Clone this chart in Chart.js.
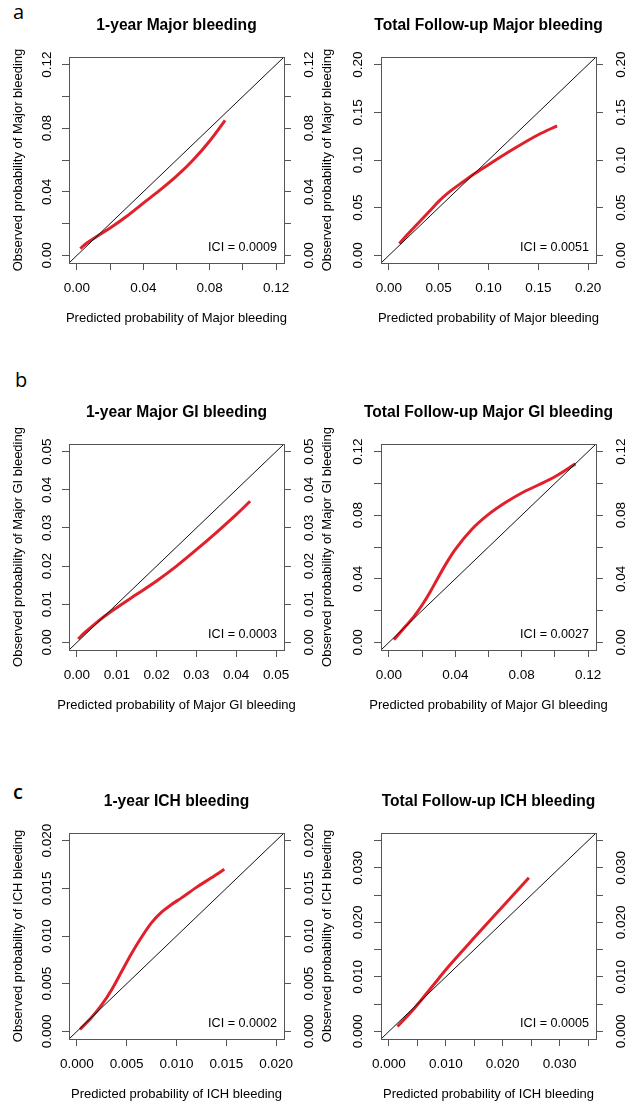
<!DOCTYPE html>
<html>
<head>
<meta charset="utf-8">
<script src="https://cdn.jsdelivr.net/npm/chart.js@4.4.1/dist/chart.umd.min.js"></script>
<style>
  html, body { margin: 0; padding: 0; background: #fff; overflow: hidden; }
  #page { position: relative; width: 625px; height: 1101px; overflow: hidden; background: #fff; }
  #page canvas { position: absolute; }
  .tag { position: absolute; font-family: "Open Sans", sans-serif; font-size: 20px; line-height: 20px; color: #000; }
</style>
</head>
<body>
<div id="page">
  <span class="tag" style="left:13px; top:2px">a</span>
  <span class="tag" style="left:15px; top:370px">b</span>
  <span class="tag" style="left:13px; top:782px; font-weight:600">c</span>
</div>
<script>
// panel texts, in reading order (a-left, a-right, b-left, b-right, c-left, c-right)
const panelTitles = [
  "1-year Major bleeding", "Total Follow-up Major bleeding",
  "1-year Major GI bleeding", "Total Follow-up Major GI bleeding",
  "1-year ICH bleeding", "Total Follow-up ICH bleeding"
];
const xAxisLabels = [
  "Predicted probability of Major bleeding", "Predicted probability of Major bleeding",
  "Predicted probability of Major GI bleeding", "Predicted probability of Major GI bleeding",
  "Predicted probability of ICH bleeding", "Predicted probability of ICH bleeding"
];
const yAxisLabels = [
  "Observed probability of Major bleeding", "Observed probability of Major bleeding",
  "Observed probability of Major GI bleeding", "Observed probability of Major GI bleeding",
  "Observed probability of ICH bleeding", "Observed probability of ICH bleeding"
];
const iciValues = ["0.0009", "0.0051", "0.0003", "0.0027", "0.0002", "0.0005"];

// axis limits (same on x and y), tick spacing and which ticks carry a label
const axisLimits = [[0, 0.12], [0, 0.20], [0, 0.05], [0, 0.12], [0, 0.020], [0, 0.035]];
const tickSteps = [0.02, 0.05, 0.01, 0.02, 0.005, 0.005];
const labelEvery = [2, 1, 1, 2, 1, 2];
const tickDecimals = [2, 2, 2, 2, 3, 3];

// calibration curves: predicted (x) vs observed (y)
const predA1 = [0.002, 0.006, 0.011, 0.02, 0.03, 0.04, 0.05, 0.06, 0.07, 0.08, 0.0893];
const obsA1  = [0.0042, 0.0078, 0.0113, 0.0172, 0.0246, 0.0329, 0.041, 0.0498, 0.060, 0.072, 0.085];

const predA2 = [0.0104, 0.02, 0.03, 0.04, 0.05, 0.06, 0.075, 0.085, 0.10, 0.125, 0.15, 0.1689];
const obsA2  = [0.0125, 0.0235, 0.0345, 0.0455, 0.0566, 0.066, 0.0775, 0.085, 0.0951, 0.1115, 0.1265, 0.1358];

const predB1 = [0.0003, 0.002, 0.004, 0.007, 0.01, 0.015, 0.02, 0.025, 0.03, 0.035, 0.04, 0.0435];
const obsB1  = [0.0009, 0.0026, 0.0044, 0.0069, 0.0091, 0.0126, 0.0161, 0.0200, 0.0243, 0.0288, 0.0335, 0.0370];

const predB2 = [0.003, 0.01, 0.015, 0.02, 0.025, 0.03, 0.035, 0.04, 0.05, 0.06, 0.07, 0.08, 0.09, 0.10, 0.1124];
const obsB2  = [0.0017, 0.0102, 0.0162, 0.0235, 0.032, 0.0415, 0.0505, 0.0585, 0.0712, 0.0805, 0.0878, 0.094, 0.099, 0.1042, 0.1123];

const predC1 = [0.0003, 0.0015, 0.0025, 0.0035, 0.0045, 0.0055, 0.0065, 0.0075, 0.0085, 0.0095, 0.0105, 0.012, 0.0135, 0.0148];
const obsC1  = [0.0002, 0.0015, 0.0028, 0.0044, 0.0063, 0.0082, 0.0099, 0.0114, 0.0125, 0.0133, 0.0140, 0.0151, 0.0161, 0.0170];

const predC2 = [0.0015, 0.0046, 0.0075, 0.0104, 0.0151, 0.0198, 0.0246];
const obsC2  = [0.0009, 0.0044, 0.0081, 0.0118, 0.0173, 0.0227, 0.0282];

const predSeries = [predA1, predA2, predB1, predB2, predC1, predC2];
const obsSeries = [obsA1, obsA2, obsB1, obsB2, obsC1, obsC2];

// layout
const FONT = '"Liberation Sans", Arial, sans-serif';
const GREY = "#555";
const RED = "#e0202a";
const colLeft = [0, 312];       // canvas left per column
const rowTop = [0, 387, 776];   // canvas top per row
const yTitleGap = [50.7, 54];
const yLabelGap = [21.5, 22.5];

function tickLabel(p, value) {
  const k = Math.round(value / tickSteps[p]);
  if (k % labelEvery[p] !== 0) return "";
  return value.toFixed(tickDecimals[p]);
}

const panelDecor = {
  id: "panelDecor",
  afterDraw(chart, args, o) {
    const { ctx, chartArea: a } = chart;
    const p = o.panel;
    ctx.save();
    ctx.strokeStyle = GREY;
    ctx.lineWidth = 1;
    ctx.strokeRect(Math.round(a.left) + 0.5, Math.round(a.top) + 0.5, Math.round(a.width), Math.round(a.height));

    // y tick labels, rotated like R does
    ctx.fillStyle = "#000";
    ctx.font = "13.5px " + FONT;
    ctx.textAlign = "center";
    ctx.textBaseline = "middle";
    const sides = [["y", a.left - yLabelGap[p % 2]], ["y2", a.right + 25]];
    for (const [id, x] of sides) {
      const sc = chart.scales[id];
      sc.ticks.forEach(t => {
        const lab = tickLabel(p, t.value);
        if (!lab) return;
        ctx.save();
        ctx.translate(x, sc.getPixelForValue(t.value));
        ctx.rotate(-Math.PI / 2);
        ctx.fillText(lab, 0, 0);
        ctx.restore();
      });
    }

    // axis titles
    ctx.font = "13px " + FONT;
    ctx.fillText(xAxisLabels[p], (a.left + a.right) / 2, a.bottom + 55);
    ctx.save();
    ctx.translate(a.left - yTitleGap[p % 2], (a.top + a.bottom) / 2);
    ctx.rotate(-Math.PI / 2);
    ctx.fillText(yAxisLabels[p], 0, 0);
    ctx.restore();

    ctx.font = "12.6px " + FONT;
    ctx.textAlign = "right";
    ctx.fillText("ICI = " + iciValues[p], a.right - 7, a.bottom - 15);
    ctx.restore();
  }
};

function makePanel(p) {
  const col = p % 2, row = Math.floor(p / 2);
  const canvas = document.createElement("canvas");
  canvas.width = 353;
  canvas.height = 340;
  canvas.style.left = colLeft[col] + "px";
  canvas.style.top = rowTop[row] + "px";
  document.getElementById("page").appendChild(canvas);

  const [lo, hi] = axisLimits[p];
  const pad = (hi - lo) * 0.04;
  const min = lo - pad, max = hi + pad;

  const curve = predSeries[p].map((x, i) => ({ x: x, y: obsSeries[p][i] }));
  const diag = [{ x: min, y: min }, { x: max, y: max }];

  const tickGrid = { drawOnChartArea: false, drawTicks: true, tickLength: 7, tickColor: GREY, tickWidth: 1 };

  new Chart(canvas, {
    type: "scatter",
    data: {
      datasets: [
        { data: diag, showLine: true, borderColor: "#111", borderWidth: 1, pointRadius: 0, yAxisID: "y" },
        { data: curve, showLine: true, borderColor: RED, borderWidth: 3, pointRadius: 0,
          cubicInterpolationMode: "monotone", borderCapStyle: "butt", yAxisID: "y" }
      ]
    },
    options: {
      responsive: false,
      animation: false,
      devicePixelRatio: 1,
      events: [],
      layout: { padding: 0 },
      plugins: {
        legend: { display: false },
        tooltip: { enabled: false },
        title: {
          display: true,
          text: panelTitles[p],
          color: "#000",
          font: { family: FONT, size: 15.6, weight: "bold" },
          padding: { top: 16.1, bottom: 22.2 }
        },
        panelDecor: { panel: p }
      },
      scales: {
        x: {
          type: "linear", position: "bottom", min: min, max: max,
          grid: tickGrid,
          border: { display: false },
          ticks: {
            stepSize: tickSteps[p], includeBounds: false, autoSkip: false, maxRotation: 0,
            color: "#000", font: { family: FONT, size: 13.5 }, padding: 10,
            callback: v => tickLabel(p, v)
          },
          afterFit: s => { s.height = 77; }
        },
        y: {
          type: "linear", position: "left", min: min, max: max,
          grid: tickGrid,
          border: { display: false },
          ticks: { stepSize: tickSteps[p], includeBounds: false, display: false },
          afterFit: s => { s.width = 69; }
        },
        y2: {
          type: "linear", position: "right", min: min, max: max,
          grid: tickGrid,
          border: { display: false },
          ticks: { stepSize: tickSteps[p], includeBounds: false, display: false },
          afterFit: s => { s.width = 69; }
        }
      }
    },
    plugins: [panelDecor]
  });
}

for (let p = 0; p < 6; p++) makePanel(p);
</script>
</body>
</html>
